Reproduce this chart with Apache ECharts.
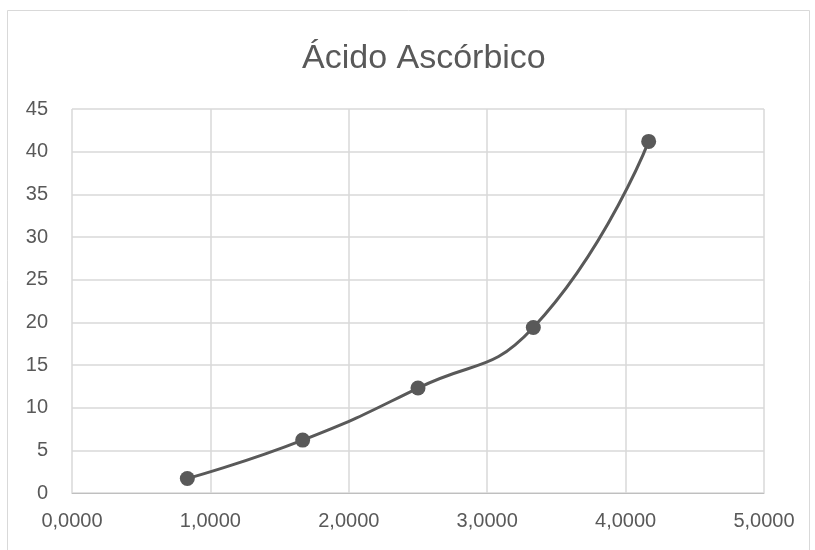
<!DOCTYPE html>
<html>
<head>
<meta charset="utf-8">
<script src="https://cdn.jsdelivr.net/npm/echarts@6/dist/echarts.min.js"></script>
<style>
  html, body { margin: 0; padding: 0; background: #ffffff; }
  #chart { width: 815px; height: 550px; }
</style>
</head>
<body>
<div id="chart"></div>
<script>
// Ascorbic acid curve: concentration (x) against response (y)
var concentrations = [0.8333, 1.6667, 2.5, 3.3333, 4.1667];
var responses = [1.7, 6.2, 12.3, 19.4, 41.2];

var xMin = 0, xMax = 5, xStep = 1;
var yMin = 0, yMax = 45, yStep = 5;

var points = concentrations.map(function (x, i) { return [x, responses[i]]; });

var textColor = '#595959';
var gridColor = '#d9d9d9';
var fontFamily = '"Liberation Sans", Arial, sans-serif';

var chart = echarts.init(document.getElementById('chart'), null, { renderer: 'canvas' });
chart.setOption({
  backgroundColor: '#ffffff',
  animation: false,
  title: {
    text: 'Ácido Ascórbico',
    left: 297,
    top: 37,
    textStyle: { color: textColor, fontSize: 34, fontWeight: 'normal', fontFamily: fontFamily }
  },
  graphic: [{
    type: 'rect',
    shape: { x: 7.5, y: 10.5, width: 802, height: 560 },
    style: { fill: 'none', stroke: gridColor, lineWidth: 1 },
    silent: true
  }],
  grid: { left: 72, right: 51, top: 109, bottom: 57, containLabel: false },
  xAxis: {
    type: 'value',
    min: xMin, max: xMax, interval: xStep,
    axisLine: { show: true, lineStyle: { color: '#bfbfbf', width: 1 } },
    axisTick: { show: false },
    splitLine: { show: true, lineStyle: { color: gridColor, width: 1.5 } },
    axisLabel: {
      color: textColor, fontSize: 20, fontFamily: fontFamily, margin: 18,
      formatter: function (v) { return v.toFixed(4).replace('.', ','); }
    }
  },
  yAxis: {
    type: 'value',
    min: yMin, max: yMax, interval: yStep,
    axisLine: { show: false },
    axisTick: { show: false },
    splitLine: { show: true, lineStyle: { color: gridColor, width: 1.5 } },
    axisLabel: { color: textColor, fontSize: 20, fontFamily: fontFamily, margin: 24 }
  },
  series: [{
    type: 'line',
    data: points,
    smooth: 0.5,
    symbol: 'circle',
    symbolSize: 15,
    lineStyle: { color: '#595959', width: 3 },
    itemStyle: { color: '#595959' }
  }]
});
</script>
</body>
</html>
